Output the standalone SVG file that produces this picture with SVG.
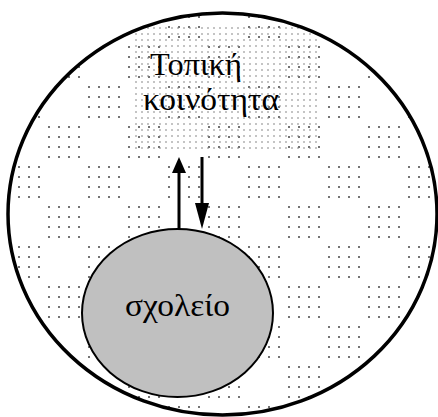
<svg xmlns="http://www.w3.org/2000/svg" width="438" height="417" viewBox="0 0 438 417">
<defs>
<pattern id="dots" patternUnits="userSpaceOnUse" x="4" y="2" width="80" height="80">
<g fill="#444">
<circle cx="5" cy="5" r="1"/><circle cx="15" cy="5" r="1"/><circle cx="25" cy="5" r="1"/><circle cx="35" cy="5" r="1"/>
<circle cx="5" cy="15" r="1"/><circle cx="15" cy="15" r="1"/><circle cx="25" cy="15" r="1"/><circle cx="35" cy="15" r="1"/>
<circle cx="5" cy="25" r="1"/><circle cx="15" cy="25" r="1"/><circle cx="25" cy="25" r="1"/><circle cx="35" cy="25" r="1"/>
<circle cx="5" cy="35" r="1"/><circle cx="15" cy="35" r="1"/><circle cx="25" cy="35" r="1"/><circle cx="35" cy="35" r="1"/>
<circle cx="45" cy="45" r="1"/><circle cx="55" cy="45" r="1"/><circle cx="65" cy="45" r="1"/><circle cx="75" cy="45" r="1"/>
<circle cx="45" cy="55" r="1"/><circle cx="55" cy="55" r="1"/><circle cx="65" cy="55" r="1"/><circle cx="75" cy="55" r="1"/>
<circle cx="45" cy="65" r="1"/><circle cx="55" cy="65" r="1"/><circle cx="65" cy="65" r="1"/><circle cx="75" cy="65" r="1"/>
<circle cx="45" cy="75" r="1"/><circle cx="55" cy="75" r="1"/><circle cx="65" cy="75" r="1"/><circle cx="75" cy="75" r="1"/>
</g>
</pattern>
<pattern id="dense" patternUnits="userSpaceOnUse" x="133" y="25" width="6" height="6">
<circle cx="3" cy="3" r="0.8" fill="#777"/>
</pattern>
<clipPath id="outerClip"><ellipse cx="222.5" cy="214" rx="214.5" ry="201"/></clipPath>
</defs>
<g id="community">
<ellipse cx="222.5" cy="214" rx="214.5" ry="201" fill="#fff"/>
<rect x="0" y="0" width="438" height="417" fill="url(#dots)" clip-path="url(#outerClip)"/>
<rect x="133" y="25" width="184" height="128" fill="url(#dense)" clip-path="url(#outerClip)"/>
<ellipse cx="222.5" cy="214" rx="214.5" ry="201" fill="none" stroke="#000" stroke-width="3.5"/>
<text x="150" y="75" font-family="Liberation Serif, Times New Roman, serif" font-size="31" textLength="92" lengthAdjust="spacingAndGlyphs">Τοπική</text>
<text x="143" y="110" font-family="Liberation Serif, Times New Roman, serif" font-size="31" textLength="136" lengthAdjust="spacingAndGlyphs">κοινότητα</text>
</g>
<g id="connectors" stroke="#000" stroke-width="3">
<line x1="179" y1="230" x2="179" y2="170"/>
<polygon points="179,157 172,173 186,173" fill="#000" stroke="none"/>
<line x1="202" y1="157" x2="202" y2="205"/>
<polygon points="202,229 195,203 209,203" fill="#000" stroke="none"/>
</g>
<g id="school">
<ellipse cx="177.5" cy="313" rx="95.5" ry="84" fill="#c0c0c0" stroke="#000" stroke-width="2"/>
<text x="125" y="316" font-family="Liberation Serif, Times New Roman, serif" font-size="31" textLength="105" lengthAdjust="spacingAndGlyphs">σχολείο</text>
</g>
</svg>
